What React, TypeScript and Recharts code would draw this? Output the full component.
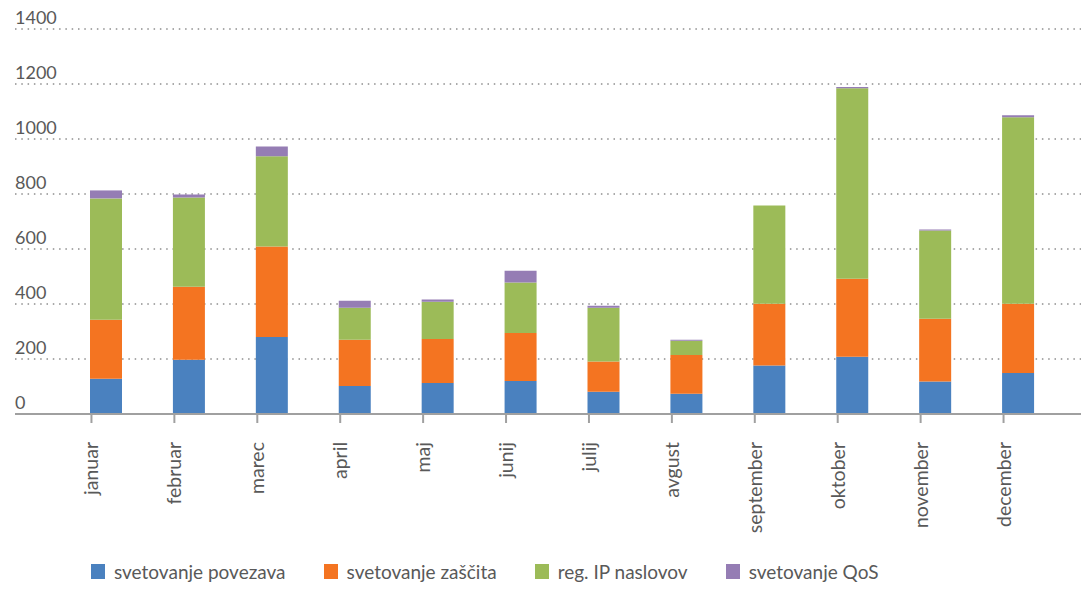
import { BarChart, Bar, XAxis, YAxis, CartesianGrid, Legend } from 'recharts';

const months = ['januar', 'februar', 'marec', 'april', 'maj', 'junij', 'julij', 'avgust', 'september', 'oktober', 'november', 'december'];
const povezava = [128, 197, 280, 102, 113, 120, 81, 74, 176, 208, 118, 149];
const zascita = [215, 266, 329, 168, 160, 175, 110, 141, 225, 284, 228, 252];
const ipNaslovi = [441, 324, 328, 116, 135, 183, 195, 51, 357, 693, 321, 678];
const qos = [29, 11, 36, 26, 8, 43, 8, 4, 0, 4, 4, 7];
const yTicks = [0, 200, 400, 600, 800, 1000, 1200, 1400];

const series = [
  { key: 'povezava', name: 'svetovanje povezava', color: '#4a81bf' },
  { key: 'zascita', name: 'svetovanje zaščita', color: '#f47421' },
  { key: 'ip', name: 'reg. IP naslovov', color: '#9cbb58' },
  { key: 'qos', name: 'svetovanje QoS', color: '#957db4' },
];

const data = months.map((m, i) => ({
  month: m,
  povezava: povezava[i],
  zascita: zascita[i],
  ip: ipNaslovi[i],
  qos: qos[i],
}));

const FONT = 'Lato, "Open Sans", sans-serif';
const TEXT = '#595959';
const AXIS = '#a0a0a0';

const YTick = (props: any) => {
  const { y, payload } = props;
  return (
    <text x={7} y={y - 5} textAnchor="start" fontSize={18} fill={TEXT} fontFamily={FONT}>
      {payload.value}
    </text>
  );
};

const XTick = (props: any) => {
  const { x, y, payload, index } = props;
  const tx = x - 8;
  const ty = y + 28;
  return (
    <g>
      <line x1={x - 15} y1={y + 1} x2={x - 15} y2={y + 9} stroke={AXIS} strokeWidth={2} />
      {index === months.length - 1 && (
        <line x1={x + 68} y1={y + 1} x2={x + 68} y2={y + 9} stroke={AXIS} strokeWidth={2} />
      )}
      <text
        x={tx}
        y={ty}
        transform={`rotate(-90, ${tx}, ${ty})`}
        textAnchor="end"
        fontSize={19.5}
        fill={TEXT}
        fontFamily={FONT}
      >
        {payload.value}
      </text>
    </g>
  );
};

const renderLegend = () => (
  <div style={{ display: 'flex', paddingLeft: 83, paddingTop: 22, fontFamily: FONT, fontSize: 19, color: TEXT }}>
    {series.map((s) => (
      <div key={s.key} style={{ display: 'flex', alignItems: 'center', height: 20, marginRight: 38 }}>
        <span style={{ display: 'inline-block', width: 14, height: 15, background: s.color, marginRight: 9 }} />
        <span>{s.name}</span>
      </div>
    ))}
  </div>
);

export default function App() {
  // body has an 8px margin; pull the chart up so the top label has room inside the svg
  return (
    <div style={{ width: 1081, height: 589, marginTop: -8 }}>
      <BarChart width={1081} height={589} data={data} margin={{ top: 29, right: 3, left: 0, bottom: 0 }}>
        <CartesianGrid vertical={false} stroke="#555" strokeDasharray="1.5 4.8" />
        <XAxis
          dataKey="month"
          interval={0}
          height={125}
          padding={{ left: 50, right: 26 }}
          tickLine={false}
          tickSize={0}
          tickMargin={0}
          axisLine={{ stroke: AXIS, strokeWidth: 2 }}
          tick={<XTick />}
        />
        <YAxis
          width={7}
          domain={[0, 1400]}
          ticks={yTicks}
          axisLine={false}
          tickLine={false}
          tick={<YTick />}
        />
        <Legend verticalAlign="bottom" height={50} content={renderLegend} />
        {series.map((s) => (
          <Bar key={s.key} dataKey={s.key} name={s.name} stackId="a" fill={s.color} barSize={32} isAnimationActive={false} />
        ))}
      </BarChart>
    </div>
  );
}
